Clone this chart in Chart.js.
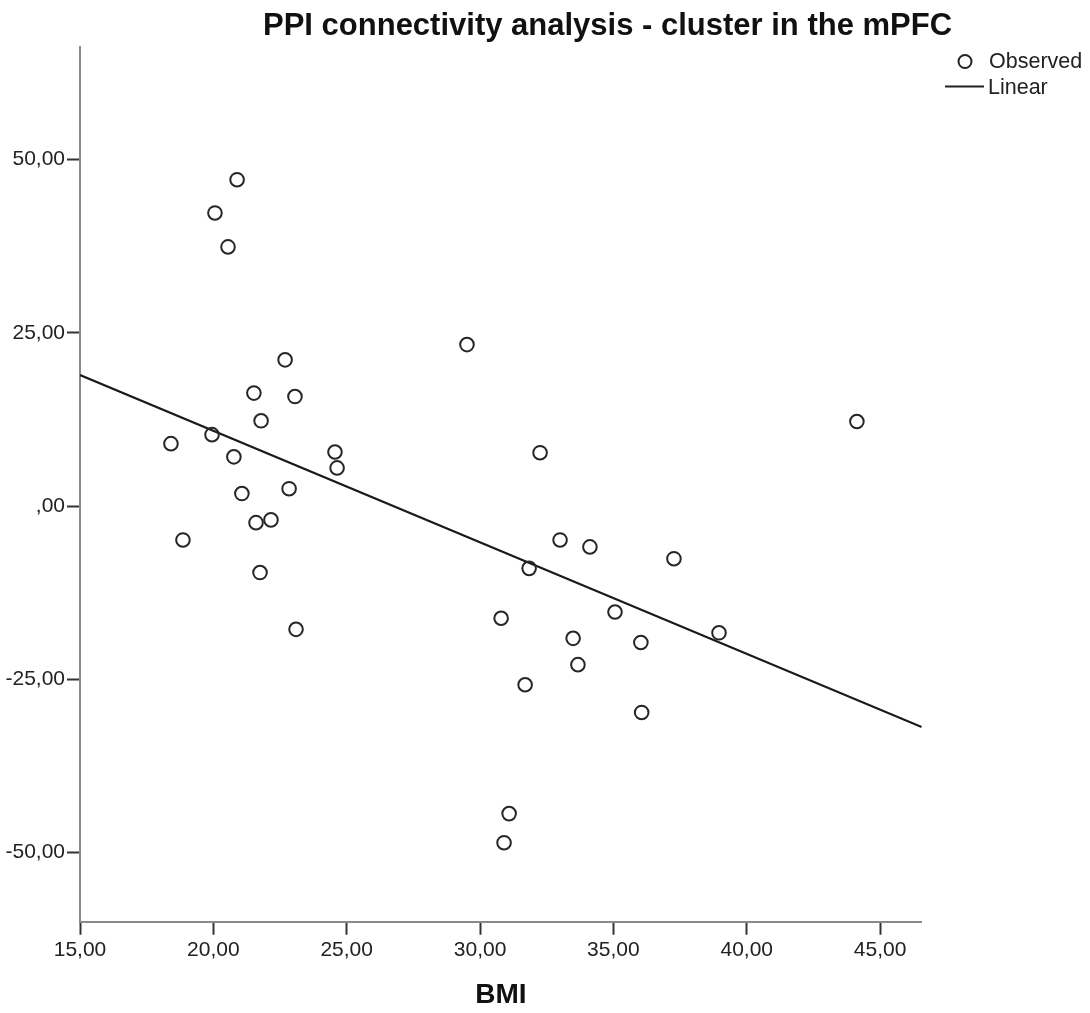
<!DOCTYPE html>
<html>
<head>
<meta charset="utf-8">
<script src="https://cdn.jsdelivr.net/npm/chart.js@4.4.1/dist/chart.umd.min.js"></script>
<style>
  html, body { margin: 0; padding: 0; background: #fff; }
  #wrap { width: 1090px; height: 1013px; position: relative; }
</style>
</head>
<body>
<div id="wrap"><canvas id="ppiChart"></canvas></div>
<script>
var bmi = [20.89, 20.06, 20.55, 22.69, 29.51, 21.52, 23.06, 21.79, 44.13, 18.41,
           19.95, 24.56, 24.64, 32.25, 20.77, 22.84, 21.07, 21.60, 22.16, 18.86,
           33.00, 34.12, 31.84, 37.27, 21.75, 30.79, 35.06, 33.49, 36.03, 38.96,
           23.10, 33.67, 31.69, 36.06, 31.09, 30.90];
var ppi = [47.1, 42.3, 37.4, 21.1, 23.3, 16.3, 15.8, 12.3, 12.2, 9.0,
           10.3, 7.8, 5.5, 7.7, 7.1, 2.5, 1.8, -2.4, -2.0, -4.9,
           -4.9, -5.9, -9.0, -7.6, -9.6, -16.2, -15.3, -19.1, -19.7, -18.3,
           -17.8, -22.9, -25.8, -29.8, -44.4, -48.6];

// linear fit, ends of the line
var fitX = [15, 46.56];
var fitY = [18.9, -31.9];

var xTicks = [15, 20, 25, 30, 35, 40, 45];
var yTicks = [-50, -25, 0, 25, 50];

var FONT = '"Liberation Sans", Arial, sans-serif';
var INK = '#222';

function fmt(v) {
  var s = Math.abs(v).toFixed(2).replace('.', ',');
  if (Math.abs(v) < 1) s = s.replace(/^0/, '');
  return (v < 0 ? '-' : '') + s;
}

var observed = bmi.map(function(x, i) { return {x: x, y: ppi[i]}; });
var linear = fitX.map(function(x, i) { return {x: x, y: fitY[i]}; });

// title and legend sit off-centre in the original, so draw them by hand
var decorations = {
  id: 'decorations',
  afterDraw: function(chart) {
    var ctx = chart.ctx;
    ctx.save();
    ctx.fillStyle = '#111';
    ctx.font = 'bold 31px ' + FONT;
    ctx.textAlign = 'left';
    ctx.textBaseline = 'alphabetic';
    ctx.fillText('PPI connectivity analysis - cluster in the mPFC', 263, 35);

    ctx.font = '21.5px ' + FONT;
    ctx.textBaseline = 'middle';
    ctx.fillStyle = INK;
    ctx.strokeStyle = INK;
    ctx.lineWidth = 2;
    ctx.beginPath();
    ctx.arc(965, 61.5, 6.5, 0, Math.PI * 2);
    ctx.stroke();
    ctx.fillText('Observed', 989, 62);
    ctx.beginPath();
    ctx.moveTo(945, 86.5);
    ctx.lineTo(984, 86.5);
    ctx.stroke();
    ctx.fillText('Linear', 988, 88);
    ctx.restore();
  }
};

var ctx = document.getElementById('ppiChart').getContext('2d');
new Chart(ctx, {
  type: 'scatter',
  data: {
    datasets: [
      {
        label: 'Observed',
        data: observed,
        pointStyle: 'circle',
        pointRadius: 6.8,
        pointBorderWidth: 2,
        pointBorderColor: '#262626',
        pointBackgroundColor: 'rgba(0,0,0,0)'
      },
      {
        label: 'Linear',
        type: 'line',
        data: linear,
        borderColor: '#1a1a1a',
        borderWidth: 2.2,
        pointRadius: 0,
        fill: false
      }
    ]
  },
  options: {
    responsive: true,
    maintainAspectRatio: false,
    animation: false,
    events: [],
    layout: {
      padding: {left: 0, top: 46.7, right: 168.3, bottom: 0}
    },
    plugins: {
      legend: {display: false},
      title: {display: false},
      tooltip: {enabled: false}
    },
    scales: {
      x: {
        type: 'linear',
        min: 15,
        max: 46.56,
        afterBuildTicks: function(scale) {
          scale.ticks = xTicks.map(function(v) { return {value: v}; });
        },
        afterFit: function(scale) { scale.height = 91.3; },
        grid: {drawOnChartArea: false, drawTicks: true, tickLength: 13, tickWidth: 2, tickColor: '#333'},
        border: {display: true, color: '#8a8a8a', width: 2},
        ticks: {
          autoSkip: false,
          maxRotation: 0,
          padding: 3,
          color: INK,
          font: {family: FONT, size: 21},
          callback: function(v) { return fmt(v); }
        },
        title: {
          display: true,
          text: 'BMI',
          color: '#111',
          font: {family: FONT, size: 28, weight: 'bold'},
          padding: {top: 0, bottom: 1}
        }
      },
      y: {
        type: 'linear',
        min: -60,
        max: 66.3,
        afterBuildTicks: function(scale) {
          scale.ticks = yTicks.map(function(v) { return {value: v}; });
        },
        afterFit: function(scale) { scale.width = 80; },
        grid: {drawOnChartArea: false, drawTicks: true, tickLength: 13, tickWidth: 2, tickColor: '#333'},
        border: {display: true, color: '#8a8a8a', width: 2},
        ticks: {
          autoSkip: false,
          padding: 2,
          color: INK,
          font: {family: FONT, size: 21},
          callback: function(v) { return fmt(v); }
        }
      }
    }
  },
  plugins: [decorations]
});
</script>
</body>
</html>
